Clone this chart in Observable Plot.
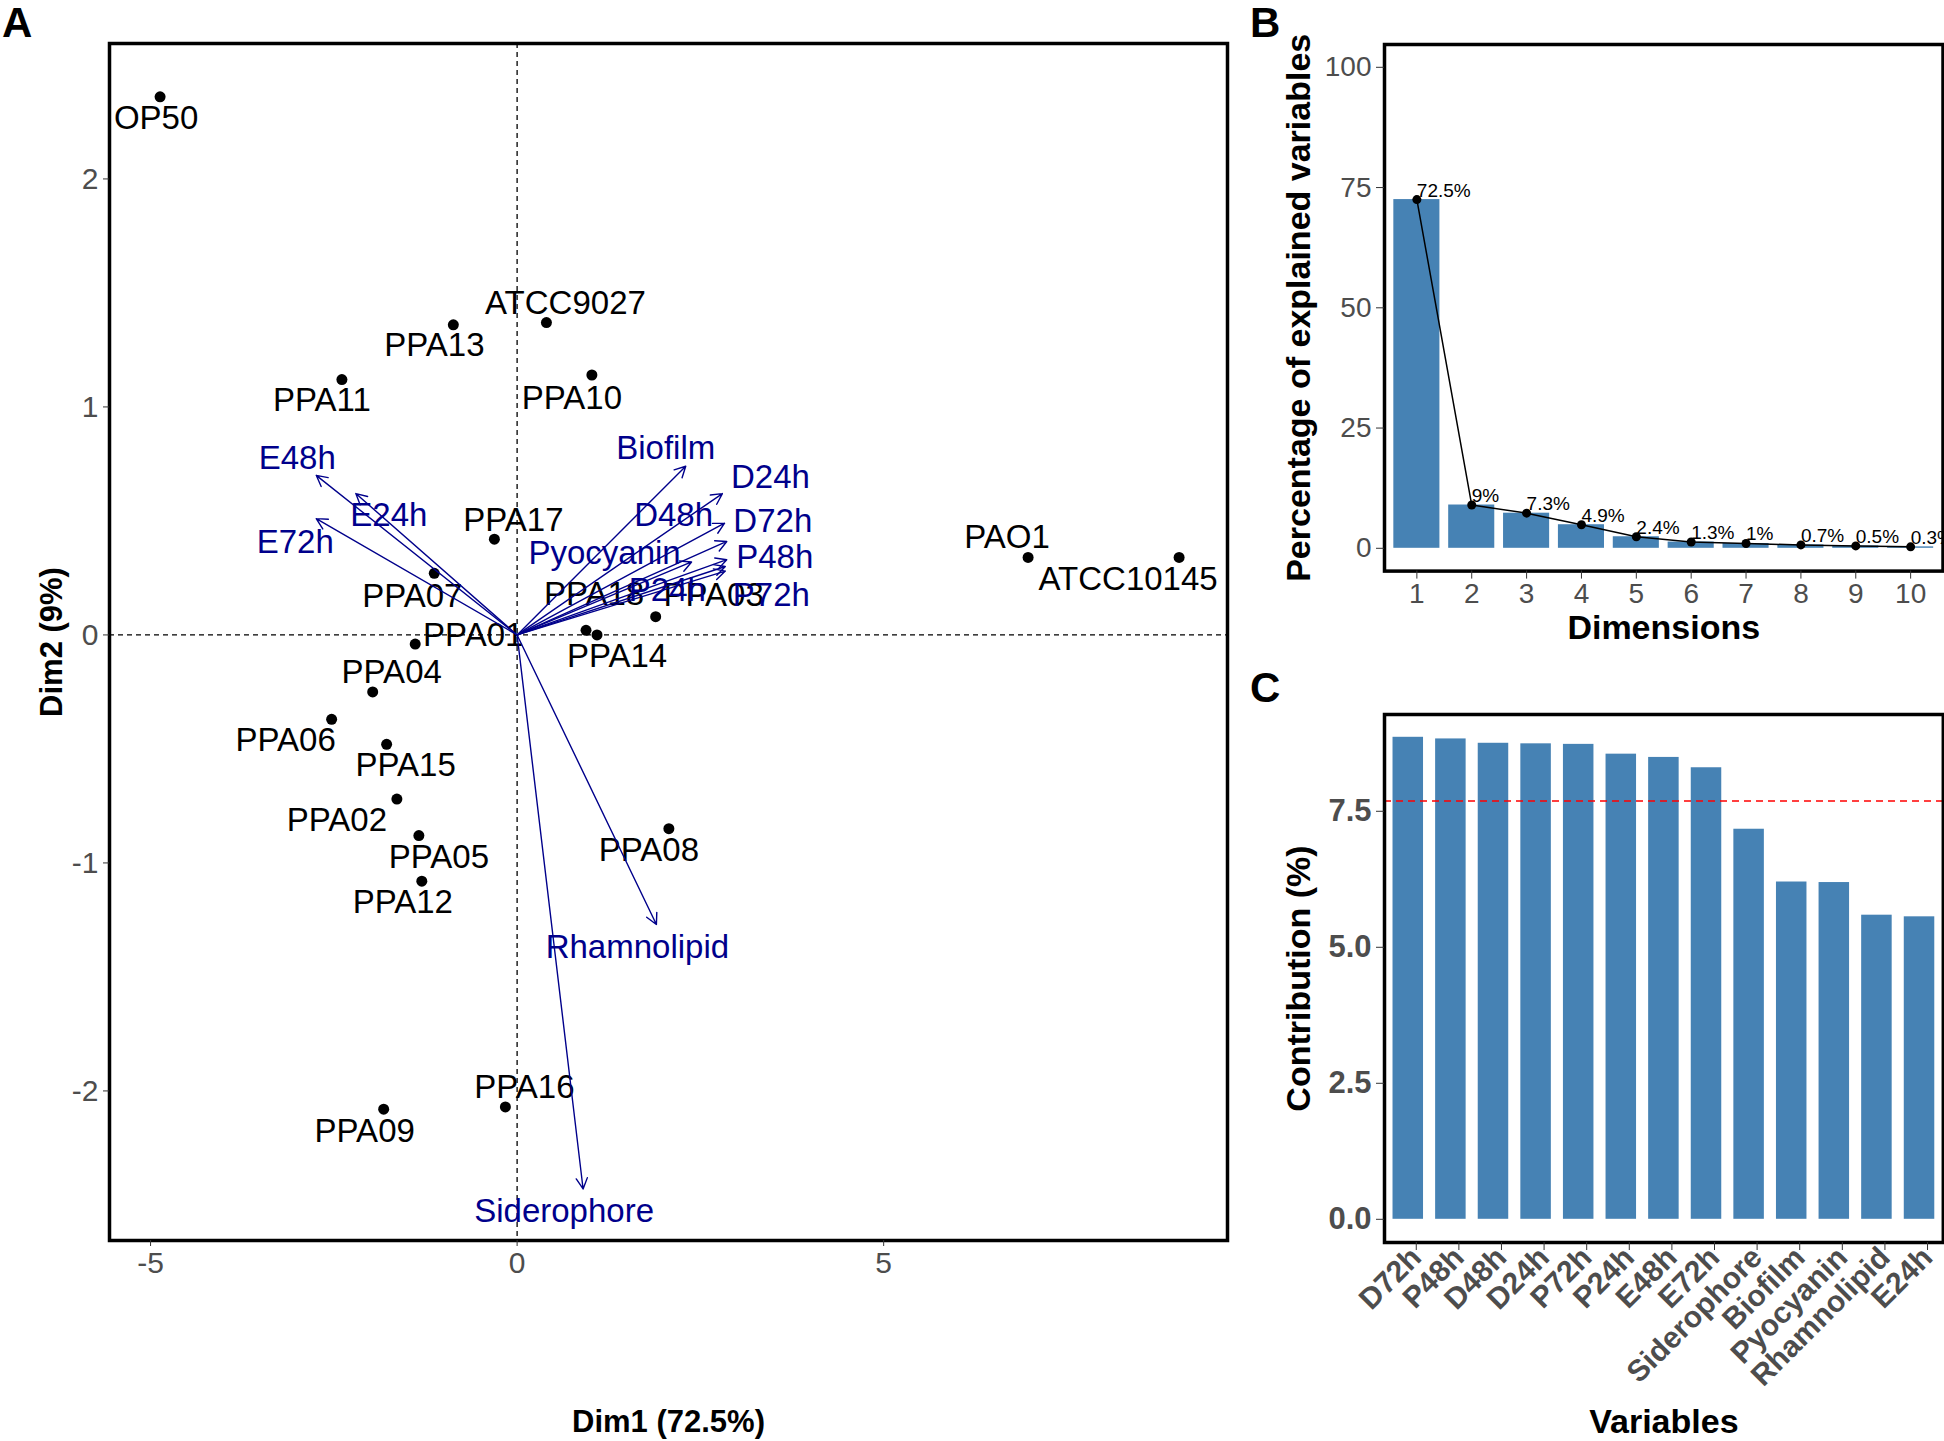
<!DOCTYPE html>
<html><head><meta charset="utf-8">
<script src="https://cdn.jsdelivr.net/npm/d3@7"></script>
<script src="https://cdn.jsdelivr.net/npm/@observablehq/plot@0.6"></script>
<style>
body{margin:0;background:#fff;}
#fig{position:relative;width:1944px;height:1441px;background:#fff;font-family:"Liberation Sans",Arial,sans-serif;overflow:hidden}
.panel{position:absolute}
.letter{position:absolute;font-weight:bold;font-size:42px;line-height:1;color:#000;font-family:"Liberation Sans",Arial,sans-serif}
</style></head><body>
<div id="fig">
  <div id="pA" class="panel" style="left:0;top:0"></div>
  <div id="pB" class="panel" style="left:1250px;top:0"></div>
  <div id="pC" class="panel" style="left:1250px;top:640px"></div>
  <div class="letter" style="left:2px;top:1.5px">A</div>
  <div class="letter" style="left:1250px;top:1.5px">B</div>
  <div class="letter" style="left:1250px;top:666.5px">C</div>
</div>
<script>
// ---------- Panel A: PCA biplot ----------
const strainNames = ["OP50","ATCC9027","PPA13","PPA11","PPA10","PPA17","PPA07","PPA01","PPA04","PPA06","PPA15","PPA02","PPA05","PPA12","PPA18","PPA14","PPA03","PPA08","PPA16","PPA09","PAO1","ATCC10145"];
const strainDim1 = [-4.87, 0.40, -0.87, -2.39, 1.02, -0.31, -1.13, -1.39, -1.97, -2.53, -1.78, -1.64, -1.34, -1.30, 0.94, 1.09, 1.89, 2.07, -0.16, -1.82, 6.97, 9.03];
const strainDim2 = [2.36, 1.37, 1.36, 1.12, 1.14, 0.42, 0.27, -0.04, -0.25, -0.37, -0.48, -0.72, -0.88, -1.08, 0.02, 0.00, 0.08, -0.85, -2.07, -2.08, 0.34, 0.34];

const varNames = ["E48h","E24h","E72h","Biofilm","D24h","D48h","D72h","P48h","P24h","P72h","Pyocyanin","Rhamnolipid","Siderophore"];
const varDim1 = [-2.74, -2.20, -2.74, 2.30, 2.80, 2.83, 2.86, 2.86, 2.84, 2.84, 2.38, 1.90, 0.90];
const varDim2 = [0.70, 0.62, 0.51, 0.74, 0.62, 0.49, 0.41, 0.33, 0.30, 0.28, 0.32, -1.27, -2.43];

const xTicksA = [-5, 0, 5];
const yTicksA = [-2, -1, 0, 1, 2];

// ---------- Panel B: scree plot ----------
const screeDims = [1,2,3,4,5,6,7,8,9,10];
const screePct = [72.5, 9, 7.3, 4.9, 2.4, 1.3, 1, 0.7, 0.5, 0.3];
const yTicksB = [0, 25, 50, 75, 100];

// ---------- Panel C: contributions ----------
const contribVars = ["D72h","P48h","D48h","D24h","P72h","P24h","E48h","E72h","Siderophore","Biofilm","Pyocyanin","Rhamnolipid","E24h"];
const contribVals = [8.86, 8.83, 8.75, 8.74, 8.73, 8.55, 8.49, 8.30, 7.17, 6.20, 6.19, 5.59, 5.56];
const expectedContribution = [7.69];
const yTicksC = [0, 2.5, 5, 7.5];

// ---------- layout-only label nudges (px), mimicking repelled labels ----------
const strainLabelNudge = {
  OP50:[-4,22], ATCC9027:[19,-19], PPA13:[-19,21], PPA11:[-20,21], PPA10:[-20,23],
  PPA17:[19,-19], PPA07:[-22,23], PPA01:[58,-9], PPA04:[19,-19], PPA06:[-46,21],
  PPA15:[19,21], PPA02:[-60,21], PPA05:[20,22], PPA12:[-19,21], PPA18:[8,-36],
  PPA14:[20,22], PPA03:[58,-21], PPA08:[-20,22], PPA16:[19,-19], PPA09:[-19,22],
  PAO1:[-21,-20], ATCC10145:[-51,22]
};
const varLabelNudge = {
  E48h:[-19,-17], E24h:[33,22], E72h:[-21,24], Biofilm:[-20,-18], D24h:[48,-16],
  D48h:[-51,-8], D72h:[46,-20], P48h:[48,-2], P24h:[-58,24], P72h:[46,24],
  Pyocyanin:[-87,-9], Rhamnolipid:[-19,23], Siderophore:[-19,22]
};

const FONT = "Liberation Sans, Arial, sans-serif";
const GRAY = "#4d4d4d";
const NAVY = "#00008B";

const strains = strainNames.map((name, i) => ({name, x: strainDim1[i], y: strainDim2[i]}));
const vars = varNames.map((name, i) => ({name, x: varDim1[i], y: varDim2[i]}));

const titleX = (t, dy, size) => Plot.text([t], {text: d => d, frameAnchor: "bottom", dy, textAnchor: "middle", lineAnchor: "middle", fontSize: size, fontWeight: "bold", fill: "black"});
const titleY = (t, dx, size) => Plot.text([t], {text: d => d, frameAnchor: "left", dx, rotate: -90, textAnchor: "middle", lineAnchor: "middle", fontSize: size, fontWeight: "bold", fill: "black"});

const plotA = Plot.plot({
  width: 1250, height: 1441,
  marginLeft: 109, marginRight: 23, marginTop: 43, marginBottom: 201,
  style: {fontFamily: FONT, background: "transparent", overflow: "visible"},
  x: {domain: [-5.56, 9.69]},
  y: {domain: [-2.656, 2.594]},
  marks: [
    Plot.ruleX([0], {stroke: "black", strokeWidth: 1.3, strokeDasharray: "5,4"}),
    Plot.ruleY([0], {stroke: "black", strokeWidth: 1.3, strokeDasharray: "5,4"}),
    Plot.dot(strains, {x: "x", y: "y", r: 5.5, fill: "black"}),
    ...strains.map(d => Plot.text([d], {
      x: "x", y: "y", text: "name", fontSize: 33, fill: "black",
      dx: strainLabelNudge[d.name][0], dy: strainLabelNudge[d.name][1]
    })),
    Plot.arrow(vars, {x1: () => 0, y1: () => 0, x2: "x", y2: "y", stroke: NAVY, strokeWidth: 1.4, headLength: 13, headAngle: 55}),
    ...vars.map(d => Plot.text([d], {
      x: "x", y: "y", text: "name", fontSize: 33, fill: NAVY,
      dx: varLabelNudge[d.name][0], dy: varLabelNudge[d.name][1]
    })),
    Plot.frame({stroke: "black", strokeWidth: 3.5}),
    Plot.axisX({ticks: xTicksA, tickFormat: d => String(d), tickSize: 6, tickPadding: 5, fontSize: 30, fill: GRAY, stroke: "#333", label: null}),
    Plot.axisY({ticks: yTicksA, tickFormat: d => String(d), tickSize: 6, tickPadding: 5, fontSize: 30, fill: GRAY, stroke: "#333", label: null}),
    titleX("Dim1 (72.5%)", 182, 31),
    titleY("Dim2 (9%)", -57, 31)
  ]
});
document.getElementById("pA").appendChild(plotA);

// Panel B
const scree = screeDims.map((d, i) => ({dim: d, pct: screePct[i]}));
const plotB = Plot.plot({
  width: 694, height: 640,
  marginLeft: 134, marginRight: 1.5, marginTop: 44, marginBottom: 69.4,
  style: {fontFamily: FONT, background: "transparent", overflow: "visible"},
  x: {type: "band", domain: screeDims, paddingInner: 0.16, paddingOuter: 0.17, round: false},
  y: {domain: [-4.74, 104.74]},
  marks: [
    Plot.barY(scree, {x: "dim", y: "pct", fill: "steelblue"}),
    Plot.line(scree, {x: "dim", y: "pct", stroke: "black", strokeWidth: 1.5}),
    Plot.dot(scree, {x: "dim", y: "pct", r: 4.5, fill: "black"}),
    Plot.text(scree, {x: "dim", y: "pct", text: d => d.pct + "%", textAnchor: "start", lineAnchor: "bottom", dy: -3, fontSize: 19, fill: "black", clip: true}),
    Plot.frame({stroke: "black", strokeWidth: 3.5}),
    Plot.axisX({tickSize: 8, tickPadding: 4, fontSize: 28, fill: GRAY, stroke: "#333", label: null}),
    Plot.axisY({ticks: yTicksB, tickSize: 8, tickPadding: 5, fontSize: 28, fill: GRAY, stroke: "#333", label: null}),
    titleX("Dimensions", 57, 34),
    titleY("Percentage of explained variables", -85, 34)
  ]
});
document.getElementById("pB").appendChild(plotB);

// Panel C
const contrib = contribVars.map((v, i) => ({variable: v, value: contribVals[i]}));
const plotC = Plot.plot({
  width: 694, height: 801,
  marginLeft: 134, marginRight: 1.2, marginTop: 74, marginBottom: 199,
  style: {fontFamily: FONT, background: "transparent", overflow: "visible"},
  x: {type: "band", domain: contribVars, paddingInner: 0.284, paddingOuter: 0.2, round: false},
  y: {domain: [-0.4265, 9.279]},
  marks: [
    Plot.barY(contrib, {x: "variable", y: "value", fill: "steelblue"}),
    Plot.ruleY(expectedContribution, {stroke: "red", strokeWidth: 1.5, strokeDasharray: "7,5"}),
    Plot.frame({stroke: "black", strokeWidth: 3.5}),
    Plot.axisX({tickRotate: -45, tickSize: 8, tickPadding: 2, dx: 8, fontSize: 30, fontWeight: "bold", fill: GRAY, stroke: "#333", label: null}),
    Plot.axisY({ticks: yTicksC, tickFormat: d3.format(".1f"), tickSize: 8, tickPadding: 5, fontSize: 31, fontWeight: "bold", fill: GRAY, stroke: "#333", label: null}),
    titleX("Variables", 180, 34),
    titleY("Contribution (%)", -85, 34)
  ]
});
document.getElementById("pC").appendChild(plotC);
</script>
</body></html>
